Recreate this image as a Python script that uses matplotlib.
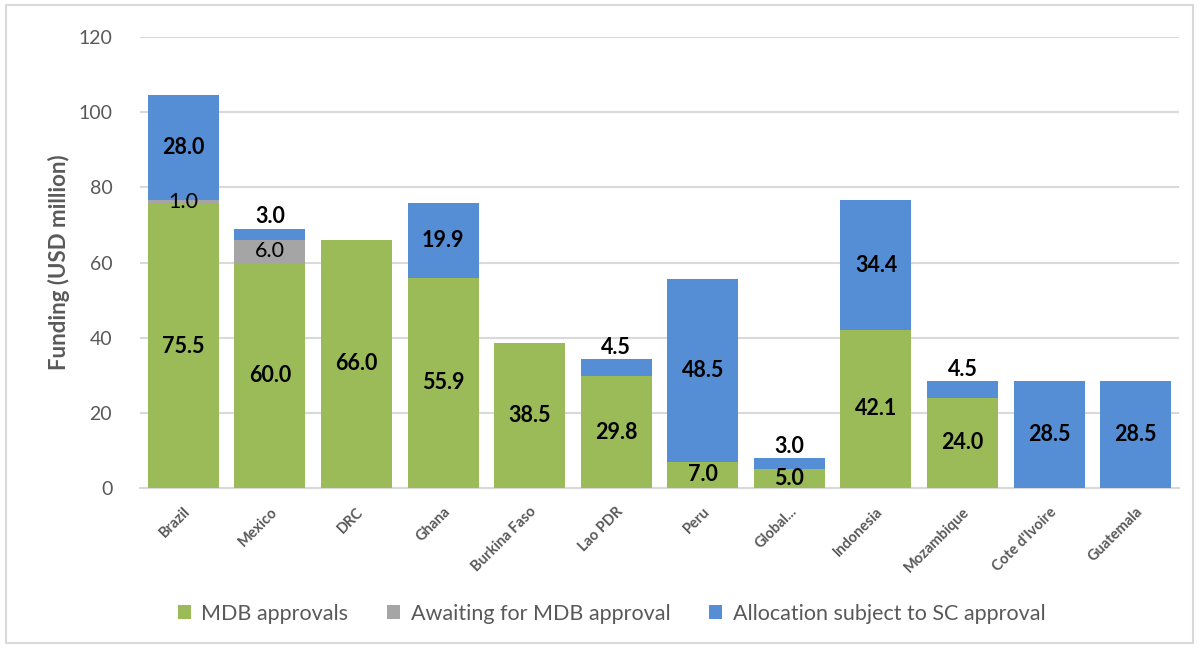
import matplotlib
matplotlib.use("Agg")
import matplotlib.pyplot as plt
from matplotlib.patches import Rectangle
import numpy as np

plt.rcParams['font.family'] = ['Lato', 'DejaVu Sans']

categories = ["Brazil", "Mexico", "DRC", "Ghana", "Burkina Faso", "Lao PDR", "Peru",
              "Global...", "Indonesia", "Mozambique", "Cote d'Ivoire", "Guatemala"]
mdb_approvals = [75.5, 60.0, 66.0, 55.9, 38.5, 29.8, 7.0, 5.0, 42.1, 24.0, 0, 0]
awaiting = [1.0, 6.0, 0, 0, 0, 0, 0, 0, 0, 0, 0, 0]
allocation = [28.0, 3.0, 0, 19.9, 0, 4.5, 48.5, 3.0, 34.4, 4.5, 28.5, 28.5]
yticks = [0, 20, 40, 60, 80, 100, 120]

c_green = "#9BBB59"
c_gray = "#A5A5A5"
c_blue = "#558ED5"
txt_gray = "#595959"

fig = plt.figure(figsize=(11.99, 6.48), dpi=100)
ax = fig.add_axes([0.1168, 0.2469, 0.8665, 0.696])
fig.patches.append(Rectangle((0.005, 0.008), 0.99, 0.984, transform=fig.transFigure,
                             fill=False, edgecolor="#D9D9D9", linewidth=1.5))

x = np.arange(len(categories))
w = 0.82
g = np.array(mdb_approvals)
a = np.array(awaiting)
b = np.array(allocation)

ax.bar(x, g, w, color=c_green, label="MDB approvals", zorder=3)
ax.bar(x, a, w, bottom=g, color=c_gray, label="Awaiting for MDB approval", zorder=3)
ax.bar(x, b, w, bottom=g + a, color=c_blue, label="Allocation subject to SC approval", zorder=3)

fs = 15.5
for i in range(len(categories)):
    if g[i] > 0:
        ax.text(x[i], g[i] / 2, f"{g[i]:.1f}", ha="center", va="center",
                fontsize=fs, fontweight="bold", color="black", zorder=4)
    if a[i] > 0:
        ax.text(x[i], g[i] + a[i] / 2, f"{a[i]:.1f}", ha="center", va="center",
                fontsize=fs, color="black", zorder=4)
    if b[i] > 0:
        if b[i] >= 10:
            ax.text(x[i], g[i] + a[i] + b[i] / 2, f"{b[i]:.1f}", ha="center", va="center",
                    fontsize=fs, fontweight="bold", color="black", zorder=4)
        else:
            ax.annotate(f"{b[i]:.1f}", (x[i], g[i] + a[i] + b[i]), xytext=(0, 1),
                        textcoords="offset points", ha="center", va="bottom",
                        fontsize=fs, fontweight="bold", color="black", zorder=4)

ax.set_xlim(-0.5, len(categories) - 0.5)
ax.set_ylim(0, 120)
ax.set_yticks(yticks)
ax.set_yticklabels([str(t) for t in yticks], fontsize=14, color=txt_gray)
ax.set_xticks(x)
ax.set_xticklabels(categories, rotation=45, ha="right", rotation_mode="anchor",
                   fontsize=10.5, fontweight="bold", color=txt_gray)
ax.tick_params(axis="both", length=0)
ax.tick_params(axis="y", pad=20)
ax.tick_params(axis="x", pad=12)
ax.yaxis.grid(True, color="#D9D9D9", linewidth=1.5, zorder=0)
ax.set_axisbelow(True)
for s in ["top", "right", "left"]:
    ax.spines[s].set_visible(False)
ax.spines["bottom"].set_color("#D9D9D9")
ax.spines["bottom"].set_linewidth(1.5)
ax.set_ylabel("Funding (USD million)", fontsize=16, fontweight="bold", color=txt_gray, labelpad=6)

leg = fig.legend(loc="center", bbox_to_anchor=(0.51, 0.053), ncol=3, frameon=False,
                 fontsize=15.5, handlelength=0.6, handleheight=0.6, columnspacing=1.8,
                 handletextpad=0.5)
for t in leg.get_texts():
    t.set_color(txt_gray)

fig.savefig("out.png", dpi=100)
